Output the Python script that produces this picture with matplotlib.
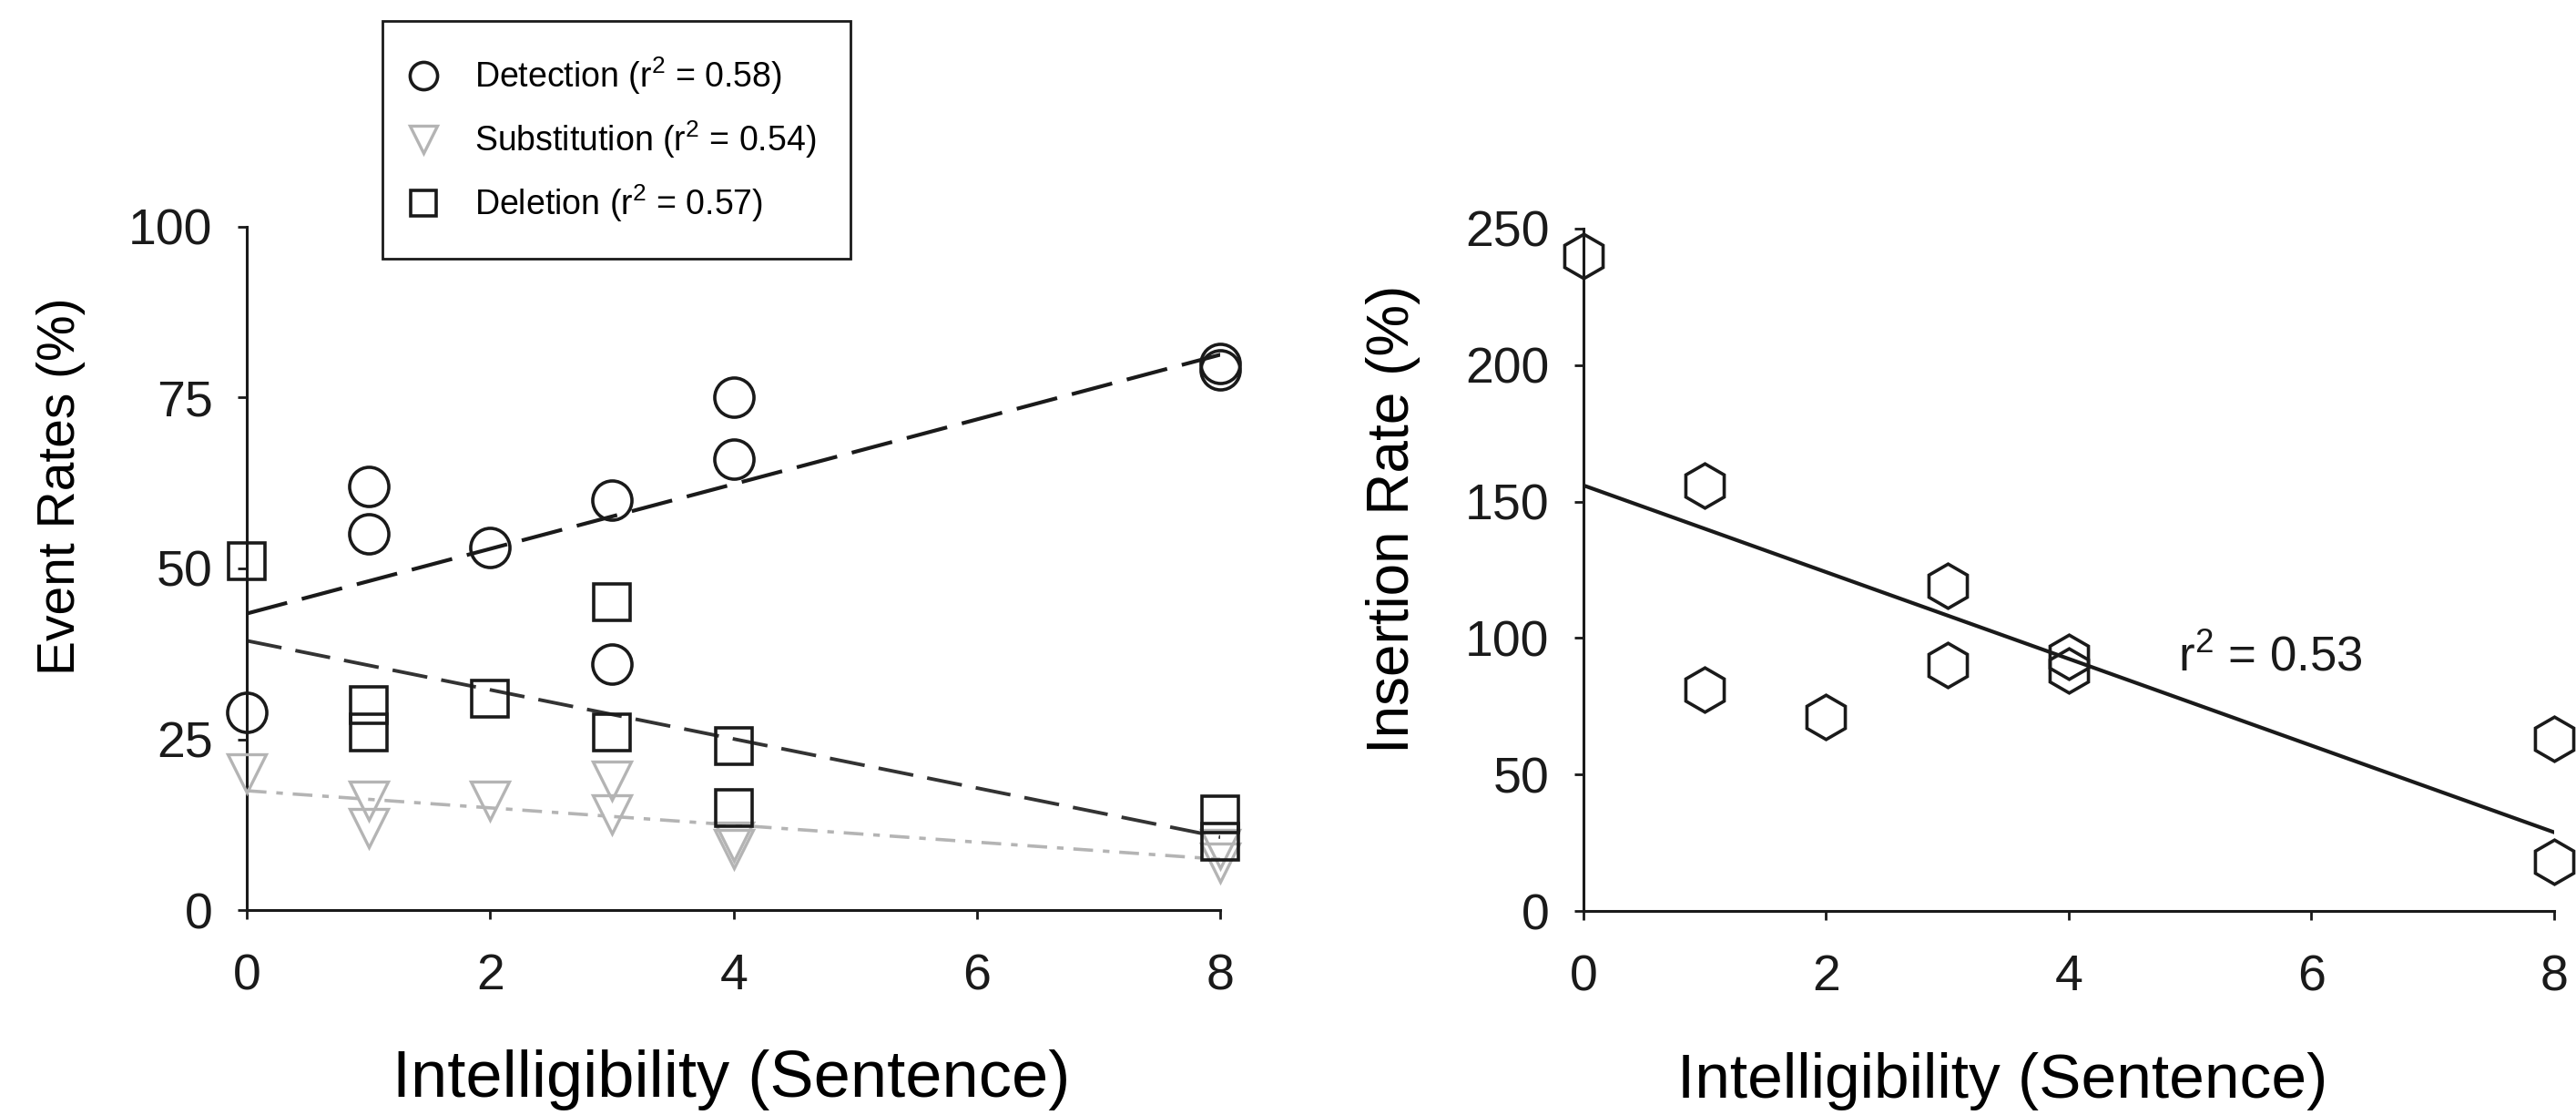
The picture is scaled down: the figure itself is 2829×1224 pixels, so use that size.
import numpy as np
import matplotlib
matplotlib.use("Agg")
import matplotlib.pyplot as plt

plt.rcParams["font.family"] = ["Liberation Sans", "DejaVu Sans"]

# Data
intelligibility = [0, 1, 1, 2, 3, 3, 4, 4, 8, 8]
detection = [29, 62, 55, 53, 60, 36, 75, 66, 80, 79]
substitution = [20, 16, 12, 16, 19, 14, 10, 9, 9, 7]
deletion = [51, 30, 26, 31, 45, 26, 24, 15, 14, 10]
insertion = [240, 156, 81, 71, 119, 90, 93, 88, 63, 18]

left_labels = ["Detection (r$^2$ = 0.58)", "Substitution (r$^2$ = 0.54)", "Deletion (r$^2$ = 0.57)"]
insertion_note = "r$^2$ = 0.53"
x_ticks = [0, 2, 4, 6, 8]
left_y_ticks = [0, 25, 50, 75, 100]
right_y_ticks = [0, 50, 100, 150, 200, 250]

GRAY = "#b4b4b4"
INK = "#1a1a1a"

# keep the superscripts in the same sans font
plt.rcParams["mathtext.fontset"] = "custom"
plt.rcParams["mathtext.rm"] = "Liberation Sans"
plt.rcParams["mathtext.default"] = "regular"


def fit_line(x, y):
    slope, intercept = np.polyfit(x, y, 1)
    xs = np.array([0, 8])
    return xs, slope * xs + intercept


def style_axes(ax):
    for side in ["top", "right"]:
        ax.spines[side].set_visible(False)
    for side in ["left", "bottom"]:
        ax.spines[side].set_linewidth(2.2)
        ax.spines[side].set_color(INK)
    ax.tick_params(direction="out", length=7, width=2, colors=INK, labelsize=40)
    ax.tick_params(axis="x", pad=27)
    ax.tick_params(axis="y", pad=20)


fig = plt.figure(figsize=(28.29, 12.24), dpi=100)
ax1 = fig.add_axes([0.0958, 0.1838, 0.378, 0.6128])
ax2 = fig.add_axes([0.6147, 0.183, 0.3768, 0.612])

# Left panel: event rates
mk = dict(linestyle="none", markerfacecolor="none", clip_on=False, zorder=3)
ax1.plot(intelligibility, detection, marker="o", markersize=31,
         markeredgewidth=2.6, markeredgecolor=INK, label=left_labels[0], **mk)
ax1.plot(intelligibility, substitution, marker="v", markersize=30,
         markeredgewidth=2.4, markeredgecolor=GRAY, label=left_labels[1], **mk)
ax1.plot(intelligibility, deletion, marker="s", markersize=29,
         markeredgewidth=2.6, markeredgecolor=INK, label=left_labels[2], **mk)

xs, ys = fit_line(intelligibility, detection)
ax1.plot(xs, ys, color=INK, linewidth=3, dashes=(11, 4), zorder=2)
xs, ys = fit_line(intelligibility, deletion)
ax1.plot(xs, ys, color="#333333", linewidth=2.8, dashes=(10, 4), zorder=2)
xs, ys = fit_line(intelligibility, substitution)
ax1.plot(xs, ys, color=GRAY, linewidth=2.6, dashes=(6, 3, 2, 3), zorder=2)

ax1.set_xlim(0, 8)
ax1.set_ylim(0, 100)
ax1.set_xticks(x_ticks)
ax1.set_yticks(left_y_ticks)
style_axes(ax1)
ax1.set_xlabel("Intelligibility (Sentence)", fontsize=52)
ax1.xaxis.set_label_coords(0.498, -0.204)
ax1.set_ylabel("Event Rates (%)", fontsize=41, va="center")
ax1.yaxis.set_label_coords(-0.191, 0.62)

leg = fig.legend(loc="upper left", bbox_to_anchor=(0.1485, 0.981), borderaxespad=0,
                 fontsize=27, frameon=True, fancybox=False, edgecolor=INK, framealpha=1,
                 handletextpad=1.3, borderpad=1.0, labelspacing=0.65, handlelength=0.4,
                 markerscale=0.7)
leg.get_frame().set_linewidth(2)

# Right panel: insertion rate
ax2.plot(intelligibility, insertion, marker="h", markersize=35,
         markeredgewidth=2.6, markeredgecolor=INK, **mk)
xs, ys = fit_line(intelligibility, insertion)
ax2.plot(xs, ys, color=INK, linewidth=3, zorder=2)
ax2.text(4.9, 92.5, insertion_note, fontsize=38, va="center", color=INK)

ax2.set_xlim(0, 8)
ax2.set_ylim(0, 250)
ax2.set_xticks(x_ticks)
ax2.set_yticks(right_y_ticks)
style_axes(ax2)
ax2.set_xlabel("Intelligibility (Sentence)", fontsize=50)
ax2.xaxis.set_label_coords(0.432, -0.207)
ax2.set_ylabel("Insertion Rate (%)", fontsize=46, va="center")
ax2.yaxis.set_label_coords(-0.196, 0.574)

fig.savefig("out.png", dpi=100)
